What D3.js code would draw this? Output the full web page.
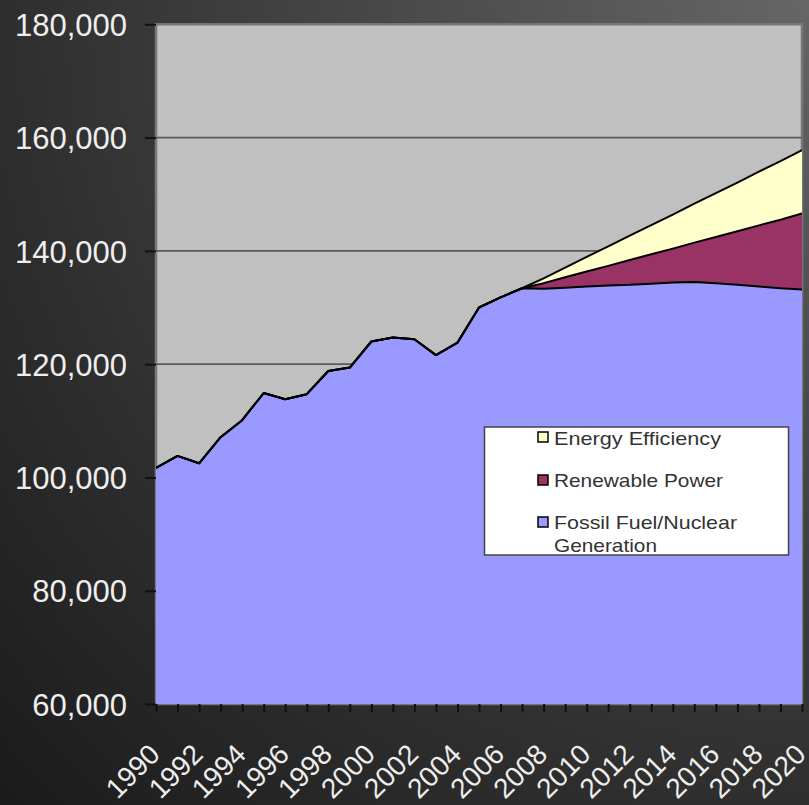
<!DOCTYPE html>
<html>
<head>
<meta charset="utf-8">
<script src="https://cdn.jsdelivr.net/npm/d3@7/dist/d3.min.js"></script>
<style>
  html, body { margin: 0; padding: 0; background: #2a2a2a; }
  svg { display: block; }
</style>
</head>
<body>
<div id="chart"></div>
<script>
// values
var years = [1990, 1991, 1992, 1993, 1994, 1995, 1996, 1997, 1998, 1999,
             2000, 2001, 2002, 2003, 2004, 2005, 2006, 2007, 2008, 2009,
             2010, 2011, 2012, 2013, 2014, 2015, 2016, 2017, 2018, 2019, 2020];

var fossil = [101700, 103800, 102500, 107100, 110100, 114900, 113800, 114700, 118800, 119400,
              124000, 124700, 124400, 121600, 123800, 130000, 131800, 133400, 133300, 133500,
              133700, 133900, 134000, 134200, 134400, 134500, 134300, 134000, 133700, 133400, 133200];

var renewable = [0, 0, 0, 0, 0, 0, 0, 0, 0, 0,
                 0, 0, 0, 0, 0, 0, 0, 0, 1000, 1850,
                 2650, 3450, 4400, 5200, 6000, 6950, 8150, 9450, 10800, 12100, 13400];

var efficiency = [0, 0, 0, 0, 0, 0, 0, 0, 0, 0,
                  0, 0, 0, 0, 0, 0, 0, 0, 850, 1700,
                  2600, 3450, 4300, 5150, 6000, 6900, 7750, 8600, 9500, 10350, 11200];

var yTicks = [60000, 80000, 100000, 120000, 140000, 160000, 180000];
var legendNames = ["Energy Efficiency", "Renewable Power", "Fossil Fuel/Nuclear Generation"];

var config = {
  width: 809,
  height: 805,
  plot: { left: 156, right: 802, top: 24.3, bottom: 704 },
  colors: { fossil: "#9999ff", renewable: "#993366", efficiency: "#ffffcc", plot: "#c0c0c0" },
  font: "'Liberation Sans', Arial, sans-serif"
};

var chart = {};
var svg, x, y;

chart.draw = function() {
  chart.setupSvg();
  chart.setupScales();
  chart.plotArea();
  chart.areas();
  chart.axes();
  chart.legend();
};

chart.setupSvg = function() {
  svg = d3.select("#chart").append("svg")
      .attr("width", config.width)
      .attr("height", config.height);

  var defs = svg.append("defs");
  var grad = defs.append("radialGradient")
      .attr("id", "bg")
      .attr("gradientUnits", "userSpaceOnUse")
      .attr("cx", 809).attr("cy", 0).attr("r", 1150);
  grad.append("stop").attr("offset", "0").attr("stop-color", "#666666");
  grad.append("stop").attr("offset", "0.7").attr("stop-color", "#2e2e2e");
  grad.append("stop").attr("offset", "1").attr("stop-color", "#1a1a1a");

  var p = config.plot;
  defs.append("clipPath").attr("id", "plotClip")
    .append("rect")
      .attr("x", p.left).attr("y", p.top)
      .attr("width", p.right - p.left)
      .attr("height", p.bottom - p.top);

  svg.append("rect")
      .attr("width", config.width)
      .attr("height", config.height)
      .attr("fill", "url(#bg)");
};

chart.setupScales = function() {
  x = d3.scaleLinear().domain([1990, 2020]).range([config.plot.left, config.plot.right]);
  y = d3.scaleLinear().domain([60000, 180000]).range([config.plot.bottom, config.plot.top]);
};

chart.plotArea = function() {
  var p = config.plot;
  svg.append("rect")
      .attr("x", p.left).attr("y", p.top)
      .attr("width", p.right - p.left)
      .attr("height", p.bottom - p.top)
      .attr("fill", config.colors.plot)
      .attr("stroke", "#777")
      .attr("stroke-width", 2.5);

  svg.append("g").selectAll("line")
      .data(yTicks.filter(function(d) { return d > 60000 && d < 180000; }))
    .enter().append("line")
      .attr("x1", p.left).attr("x2", p.right)
      .attr("y1", function(d) { return y(d); })
      .attr("y2", function(d) { return y(d); })
      .attr("stroke", "#5a5a5a")
      .attr("stroke-width", 1.8);
};

chart.areas = function() {
  var table = years.map(function(yr, i) {
    return { year: yr, fossil: fossil[i], renewable: renewable[i], efficiency: efficiency[i] };
  });
  var stack = d3.stack().keys(["fossil", "renewable", "efficiency"]);
  var series = stack(table);

  var area = d3.area()
      .x(function(d) { return x(d.data.year); })
      .y0(function(d) { return y(d[0]); })
      .y1(function(d) { return y(d[1]); });
  var top = d3.line()
      .x(function(d) { return x(d.data.year); })
      .y(function(d) { return y(d[1]); });

  var g = svg.append("g").attr("clip-path", "url(#plotClip)");
  series.forEach(function(s) {
    g.append("path")
        .attr("d", area(s))
        .attr("fill", config.colors[s.key]);
  });
  series.forEach(function(s) {
    g.append("path")
        .attr("d", top(s))
        .attr("fill", "none")
        .attr("stroke", "#000")
        .attr("stroke-width", 2)
        .attr("stroke-linejoin", "round");
  });
};

chart.axes = function() {
  var yAxis = svg.append("g")
      .attr("transform", "translate(" + config.plot.left + ",0)")
      .call(d3.axisLeft(y).tickValues(yTicks).tickFormat(d3.format(",")).tickSize(11).tickPadding(18));
  yAxis.select(".domain").remove();
  yAxis.selectAll(".tick line").attr("stroke", "#111").attr("stroke-width", 2);
  yAxis.selectAll("text")
      .attr("fill", "#eeeeee")
      .attr("dy", "0.36em")
      .style("font-family", config.font)
      .style("font-size", "31px");

  var xAxis = svg.append("g")
      .attr("transform", "translate(0," + config.plot.bottom + ")")
      .call(d3.axisBottom(x).tickValues(years)
        .tickFormat(function(d) { return d % 2 === 0 ? d : ""; })
        .tickSize(8));
  xAxis.select(".domain").remove();
  xAxis.selectAll(".tick line").attr("stroke", "#111").attr("stroke-width", 2);
  xAxis.selectAll("text")
      .attr("x", 5)
      .attr("y", 52)
      .attr("dy", 0)
      .attr("text-anchor", "end")
      .attr("transform", "rotate(-45 5 52)")
      .attr("fill", "#eeeeee")
      .style("font-family", config.font)
      .style("font-size", "28px");
};

chart.legend = function() {
  var lg = svg.append("g");
  lg.append("rect")
      .attr("x", 484.5).attr("y", 427)
      .attr("width", 304).attr("height", 128)
      .attr("fill", "#fff")
      .attr("stroke", "#444")
      .attr("stroke-width", 1.5);

  var items = [
    { key: "efficiency", lines: [legendNames[0]], widths: [167], sy: 432, ty: 445 },
    { key: "renewable", lines: [legendNames[1]], widths: [169], sy: 475, ty: 487 },
    { key: "fossil", lines: ["Fossil Fuel/Nuclear", "Generation"], widths: [183, 103], sy: 517, ty: 529 }
  ];

  items.forEach(function(it) {
    lg.append("rect")
        .attr("x", 538).attr("y", it.sy)
        .attr("width", 10).attr("height", 10)
        .attr("fill", config.colors[it.key])
        .attr("stroke", "#000")
        .attr("stroke-width", 1.5);
    var t = lg.append("text")
        .attr("x", 554).attr("y", it.ty)
        .attr("fill", "#333")
        .style("font-family", config.font)
        .style("font-size", "18.5px");
    it.lines.forEach(function(line, i) {
      t.append("tspan")
          .attr("x", 554)
          .attr("y", it.ty + i * 22.5)
          .attr("textLength", it.widths[i])
          .attr("lengthAdjust", "spacingAndGlyphs")
          .text(line);
    });
  });
};

chart.draw();
</script>
</body>
</html>
